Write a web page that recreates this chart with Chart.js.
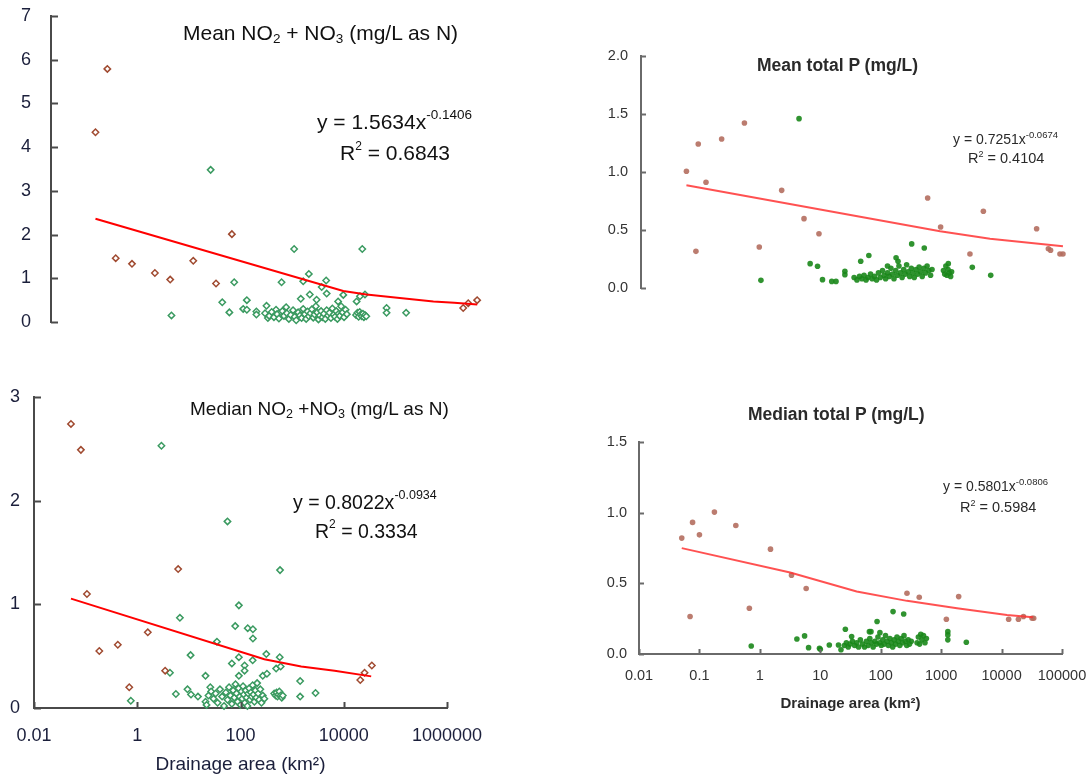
<!DOCTYPE html>
<html>
<head>
<meta charset="utf-8">
<script src="https://cdn.jsdelivr.net/npm/chart.js@4.4.1/dist/chart.umd.min.js"></script>
<style>
  body { margin: 0; width: 1089px; height: 779px; overflow: hidden; background: #fff; position: relative;
         font-family: "Liberation Sans", Arial, Helvetica, sans-serif; }
  canvas { position: absolute; }
  .txt { position: absolute; white-space: nowrap; line-height: 1; color: #111; }
  .txt span { position: relative; }
  .soft { filter: blur(0.5px); }
  .right { color: #2a2a2a; }
</style>
</head>
<body>
<canvas id="meanN" width="540" height="380" style="left:0;top:-20px"></canvas>
<canvas id="medN" width="550" height="409" style="left:-10px;top:370px"></canvas>
<canvas id="meanP" class="soft" width="520" height="290" style="left:590px;top:30px"></canvas>
<canvas id="medP" class="soft" width="540" height="330" style="left:590px;top:400px"></canvas>

<div class="txt" style="left:183px;top:22px;font-size:21px">Mean NO<span style="font-size:13.5px;top:3px">2</span> + NO<span style="font-size:13.5px;top:3px">3</span> (mg/L as N)</div>
<div class="txt" style="left:317px;top:111px;font-size:21px">y = 1.5634x<span style="font-size:13.5px;top:-10px">-0.1406</span></div>
<div class="txt" style="left:340px;top:142px;font-size:21px">R<span style="font-size:12px;top:-10px">2</span> = 0.6843</div>

<div class="txt" style="left:190px;top:399px;font-size:19px">Median NO<span style="font-size:12.5px;top:3px">2</span> +NO<span style="font-size:12.5px;top:3px">3</span> (mg/L as N)</div>
<div class="txt" style="left:293px;top:493px;font-size:19.5px">y = 0.8022x<span style="font-size:12.5px;top:-10px">-0.0934</span></div>
<div class="txt" style="left:315px;top:522px;font-size:19.5px">R<span style="font-size:12px;top:-10px">2</span> = 0.3334</div>

<div class="txt right soft" style="left:757px;top:57px;font-size:17.5px;font-weight:bold">Mean total P (mg/L)</div>
<div class="txt right soft" style="left:953px;top:132px;font-size:14px">y = 0.7251x<span style="font-size:9.5px;top:-6px">-0.0674</span></div>
<div class="txt right soft" style="left:968px;top:151px;font-size:14.5px">R<span style="font-size:9px;top:-6px">2</span> = 0.4104</div>

<div class="txt right soft" style="left:748px;top:406px;font-size:17.5px;font-weight:bold">Median total P (mg/L)</div>
<div class="txt right soft" style="left:943px;top:479px;font-size:14px">y = 0.5801x<span style="font-size:9.5px;top:-6px">-0.0806</span></div>
<div class="txt right soft" style="left:960px;top:500px;font-size:14.5px">R<span style="font-size:9px;top:-6px">2</span> = 0.5984</div>

<script>
// [drainage area km2, concentration mg/L]
const meanNBrown = [[0.048,4.34],[0.073,5.79],[0.098,1.46],[0.174,1.33],[0.39,1.12],[0.67,0.97],[1.51,1.40],[3.37,0.88],[5.9,2.01],[20600,0.32],[24600,0.43],[33700,0.50]];
const meanNGreen = [[0.70,0.15],[2.79,3.48],[4.2,0.45],[5.4,0.22],[6.4,0.91],[8.8,0.30],[10,0.28],[10,0.50],[14,0.24],[14,0.17],[20,0.37],[21,0.09],[28,0.28],[34,0.91],[40,0.34],[53,1.67],[67,0.53],[73,0.93],[89,1.10],[92,0.63],[117,0.51],[140,0.80],[164,0.95],[167,0.65],[250,0.47],[300,0.62],[480,0.47],[540,0.59],[586,1.67],[645,0.63],[1380,0.32],[1380,0.21],[2750,0.21],
  [19,0.20],[22,0.14],[24,0.23],[26,0.11],[29,0.18],[31,0.08],[35,0.25],[37,0.14],[41,0.20],[44,0.07],[47,0.16],[51,0.27],[54,0.12],[57,0.04],[61,0.22],[65,0.15],[69,0.09],[73,0.30],[77,0.18],[81,0.07],[85,0.24],[89,0.13],[94,0.20],[99,0.29],[104,0.10],[109,0.17],[114,0.36],[119,0.22],[125,0.06],[131,0.15],[137,0.25],[144,0.11],[151,0.19],[159,0.07],[167,0.27],[175,0.15],[184,0.21],[194,0.09],[204,0.31],[214,0.17],[224,0.12],[234,0.25],[244,0.07],[254,0.19],[265,0.14],[278,0.36],[292,0.22],[308,0.11],[325,0.28],[340,0.18],
  [470,0.16],[495,0.21],[515,0.12],[535,0.23],[555,0.17],[575,0.13],[600,0.19],[620,0.11],[645,0.16],[675,0.13]];
const meanNTrend = [[0.048,2.36],[300,0.71],[680,0.63],[2200,0.55],[7200,0.47],[15000,0.44],[33800,0.40]];

const medNBrown = [[0.052,2.74],[0.081,2.49],[0.106,1.10],[0.184,0.55],[0.42,0.61],[0.70,0.20],[1.60,0.73],[3.47,0.36],[6.2,1.34],[20900,0.27],[25300,0.34],[35000,0.41]];
const medNGreen = [[0.75,0.07],[2.94,2.53],[4.3,0.34],[5.6,0.135],[6.7,0.87],[9.4,0.18],[10.8,0.51],[11,0.13],[15,0.11],[21,0.31],[21,0.06],[22,0.03],[26,0.20],[35,0.64],[56,1.80],[68,0.43],[79,0.79],[93,0.99],[93,0.49],[93,0.31],[120,0.41],[120,0.36],[138,0.77],[172,0.46],[174,0.76],[174,0.67],[270,0.31],[316,0.52],[325,0.33],[490,0.38],[575,0.49],[583,1.33],[600,0.40],[1430,0.26],[1430,0.11],[2840,0.145],
  [24,0.12],[27,0.16],[30,0.09],[33,0.14],[36,0.05],[40,0.18],[44,0.11],[48,0.02],[52,0.15],[56,0.08],[60,0.20],[64,0.12],[68,0.04],[72,0.17],[76,0.10],[80,0.23],[84,0.14],[88,0.06],[92,0.19],[96,0.11],[100,0.03],[104,0.16],[108,0.09],[112,0.21],[116,0.13],[121,0.05],[126,0.17],[131,0.10],[136,0.02],[141,0.14],[147,0.19],[153,0.08],[159,0.15],[165,0.11],[172,0.22],[179,0.13],[186,0.06],[194,0.17],[202,0.10],[210,0.24],[220,0.14],[230,0.08],[242,0.18],[255,0.05],[270,0.12],[290,0.09],
  [450,0.14],[480,0.12],[500,0.15],[520,0.11],[545,0.13],[565,0.16],[600,0.12],[630,0.10],[660,0.12]];
const medNTrend = [[0.052,1.055],[290,0.47],[1500,0.40],[6650,0.36],[34000,0.305]];

const meanPBrown = [[0.050,1.006],[0.070,0.316],[0.076,1.241],[0.10,0.911],[0.174,1.284],[0.39,1.422],[0.66,0.353],[1.46,0.842],[3.22,0.598],[5.47,0.468],[257,0.776],[407,0.526],[1150,0.293],[1850,0.661],[12200,0.511],[18500,0.339],[20000,0.325],[27900,0.293],[31000,0.293]];
const meanPGreen = [[0.70,0.066],[2.7,1.46],[4.0,0.21],[5.2,0.187],[6.2,0.072],[8.6,0.057],[10,0.057],[13.7,0.144],[13.7,0.115],[24,0.23],[32,0.28],[62,0.19],[84,0.26],[90,0.23],[146,0.38],[228,0.345],[534,0.21],[1250,0.178],[2400,0.109],
  [19,0.09],[21,0.07],[23,0.10],[25,0.08],[27,0.11],[29,0.07],[31,0.09],[34,0.12],[36,0.08],[39,0.10],[42,0.07],[45,0.13],[48,0.09],[52,0.15],[55,0.11],[58,0.08],[62,0.13],[66,0.10],[70,0.17],[74,0.12],[78,0.08],[83,0.15],[88,0.11],[93,0.19],[98,0.13],[104,0.09],[110,0.16],[116,0.12],[122,0.20],[129,0.14],[136,0.10],[144,0.17],[152,0.13],[160,0.09],[170,0.16],[180,0.12],[190,0.18],[200,0.14],[212,0.10],[225,0.17],[238,0.13],[252,0.19],[268,0.15],[285,0.11],[300,0.16],
  [450,0.15],[470,0.12],[490,0.19],[510,0.11],[530,0.16],[550,0.13],[580,0.10],[600,0.14]];
const meanPTrend = [[0.050,0.885],[400,0.49],[2340,0.425],[31000,0.36]];

const medPBrown = [[0.051,0.820],[0.070,0.265],[0.077,0.931],[0.10,0.843],[0.177,1.004],[0.40,0.909],[0.67,0.324],[1.50,0.742],[3.34,0.558],[5.84,0.463],[272,0.430],[434,0.402],[1220,0.246],[1950,0.406],[13100,0.246],[19000,0.246],[23000,0.265],[32000,0.253],[34000,0.253]];
const medPGreen = [[0.72,0.057],[4.1,0.106],[5.5,0.128],[6.4,0.045],[9.7,0.04],[10,0.033],[14.1,0.064],[20,0.064],[22,0.03],[26,0.175],[33,0.123],[65,0.158],[69,0.158],[87,0.23],[97,0.151],[160,0.30],[240,0.283],[1290,0.158],[1290,0.135],[1290,0.10],[2610,0.083],
  [25,0.06],[27,0.08],[29,0.05],[31,0.07],[34,0.09],[37,0.06],[40,0.08],[43,0.05],[46,0.10],[50,0.07],[54,0.05],[58,0.09],[62,0.06],[66,0.11],[70,0.08],[75,0.05],[80,0.09],[85,0.07],[90,0.12],[96,0.08],[102,0.06],[108,0.10],[114,0.07],[120,0.13],[127,0.09],[134,0.06],[142,0.11],[150,0.08],[158,0.05],[167,0.10],[176,0.07],[186,0.12],[196,0.09],[207,0.06],[218,0.11],[230,0.08],[243,0.13],[256,0.09],[270,0.06],[285,0.10],[300,0.07],[320,0.09],
  [400,0.08],[420,0.12],[440,0.07],[460,0.14],[480,0.10],[510,0.13],[540,0.08],[570,0.11]];
const medPTrend = [[0.051,0.749],[3.17,0.576],[40,0.442],[272,0.376],[1830,0.324],[12300,0.276],[33000,0.26]];

// axis ticks
const nYTicks = [0, 1, 2, 3, 4, 5, 6, 7];
const nYLabels = ['0', '1', '2', '3', '4', '5', '6', '7'];
const medNYTicks = [0, 1, 2, 3];
const medNYLabels = ['0', '1', '2', '3'];
const meanPYTicks = [0, 0.5, 1, 1.5, 2];
const meanPYLabels = ['0.0', '0.5', '1.0', '1.5', '2.0'];
const medPYTicks = [0, 0.5, 1, 1.5];
const medPYLabels = ['0.0', '0.5', '1.0', '1.5'];
const leftXTicks = [0.01, 1, 100, 10000, 1000000];
const leftXLabels = ['0.01', '1', '100', '10000', '1000000'];
const rightXTicks = [0.01, 0.1, 1, 10, 100, 1000, 10000, 100000];
const rightXLabels = ['0.01', '0.1', '1', '10', '100', '1000', '10000', '100000'];

const FONT = '"Liberation Sans", Arial, Helvetica, sans-serif';
Chart.defaults.font.family = FONT;

const pts = arr => arr.map(([x, y]) => ({x, y}));

// tick marks drawn inside the plot, as in the original figure
const innerTicks = {
  id: 'innerTicks',
  afterDraw(chart, args, opts) {
    const ctx = chart.ctx;
    const {left, bottom} = chart.chartArea;
    ctx.save();
    ctx.strokeStyle = opts.color;
    ctx.lineWidth = opts.width;
    const ys = chart.scales.y;
    ys.ticks.forEach(t => {
      const py = Math.round(ys.getPixelForValue(t.value)) + 0.5;
      ctx.beginPath(); ctx.moveTo(left, py); ctx.lineTo(left + opts.len, py); ctx.stroke();
    });
    const xs = chart.scales.x;
    if (opts.xTicks) {
      xs.ticks.forEach(t => {
        const px = Math.round(xs.getPixelForValue(t.value)) + 0.5;
        ctx.beginPath(); ctx.moveTo(px, bottom); ctx.lineTo(px, bottom - opts.xLen); ctx.stroke();
      });
    }
    ctx.restore();
  }
};

function panel(id, o) {
  const datasets = [
    {data: pts(o.trend), showLine: true, borderColor: o.lineColor, borderWidth: 2, pointRadius: 0, order: 0, clip: false},
    {data: pts(o.brown), pointStyle: o.style, pointRadius: o.r, borderWidth: o.bw,
     borderColor: o.brownC, backgroundColor: o.fill || o.brownC, order: 1, clip: false},
    {data: pts(o.green), pointStyle: o.style, pointRadius: o.r, borderWidth: o.bw,
     borderColor: o.greenC, backgroundColor: o.fill || o.greenC, order: 2, clip: false}
  ];
  return new Chart(document.getElementById(id), {
    type: 'scatter',
    data: {datasets},
    plugins: [innerTicks],
    options: {
      responsive: false,
      animation: false,
      events: [],
      layout: {padding: o.pad},
      plugins: {
        legend: {display: false},
        tooltip: {enabled: false},
        innerTicks: {color: o.axisColor, width: o.tickW, len: o.tickLen, xTicks: !!o.xTicks, xLen: o.xTickLen}
      },
      scales: {
        x: {
          type: 'logarithmic', min: 0.01, max: o.xMax, display: !!o.xTicks,
          afterBuildTicks: s => { if (o.xTicks) s.ticks = o.xTicks.map(v => ({value: v})); },
          afterFit: s => { s.height = o.xHeight || 0; },
          grid: {display: true, drawOnChartArea: false, drawTicks: false},
          border: {display: true, color: o.axisColor, width: 2},
          ticks: {autoSkip: false, maxRotation: 0, padding: o.xPad, color: o.tickColor,
                  font: {size: o.tickSize}, callback: (v, i) => o.xLabels ? o.xLabels[i] : ''},
          title: {display: !!o.xTicks, text: 'Drainage area (km²)', color: o.titleColor,
                  font: {size: o.xTitleSize, weight: o.xTitleWeight}, padding: {top: 0, bottom: o.xTitlePad}}
        },
        y: {
          min: 0, max: o.yTicks[o.yTicks.length - 1],
          afterBuildTicks: s => { s.ticks = o.yTicks.map(v => ({value: v})); },
          afterFit: s => { s.width = o.yWidth; },
          grid: {display: true, drawOnChartArea: false, drawTicks: false},
          border: {display: true, color: o.axisColor, width: 2},
          ticks: {padding: o.yPad, color: o.tickColor, font: {size: o.tickSize},
                  callback: (v, i) => o.yLabels[i]}
        }
      }
    }
  });
}

const leftStyle = {style: 'rectRot', r: 3.2, bw: 1.5, fill: '#ffffff', brownC: '#a04a30', greenC: '#3a9a60',
                   lineColor: '#ff0000', axisColor: '#4a4a4a', tickColor: '#1b1f3b', titleColor: '#1b1f3b',
                   tickSize: 18, tickW: 2, tickLen: 7, xTickLen: 6};
const rightStyle = {style: 'circle', r: 2.8, bw: 0, brownC: 'rgba(180,110,95,0.9)', greenC: 'rgba(25,135,25,0.9)',
                    lineColor: 'rgba(255,50,50,0.85)', axisColor: '#6a6a6a', tickColor: '#333333', titleColor: '#2a2a2a',
                    tickSize: 14.5, tickW: 2, tickLen: 5, xTickLen: 5};

// canvases are oversized so that label padding never pushes the plot areas
panel('meanN', Object.assign({}, leftStyle, {
  brown: meanNBrown, green: meanNGreen, trend: meanNTrend,
  xMax: 100000, yTicks: nYTicks, yLabels: nYLabels,
  yWidth: 51, yPad: 20, pad: {left: 0, top: 36, right: 32, bottom: 38}
}));

panel('medN', Object.assign({}, leftStyle, {
  brown: medNBrown, green: medNGreen, trend: medNTrend,
  xMax: 1000000, xTicks: leftXTicks, xLabels: leftXLabels, xHeight: 71, xPad: 17,
  xTitleSize: 19, xTitleWeight: 'normal', xTitlePad: 3,
  yTicks: medNYTicks, yLabels: medNYLabels,
  yWidth: 34, yPad: 14, pad: {left: 10, top: 27, right: 93, bottom: 0}
}));

panel('meanP', Object.assign({}, rightStyle, {
  brown: meanPBrown, green: meanPGreen, trend: meanPTrend,
  xMax: 100000, yTicks: meanPYTicks, yLabels: meanPYLabels,
  yWidth: 51, yPad: 13, pad: {left: 0, top: 26, right: 14, bottom: 32}
}));

panel('medP', Object.assign({}, rightStyle, {
  brown: medPBrown, green: medPGreen, trend: medPTrend,
  xMax: 100000, xTicks: rightXTicks, xLabels: rightXLabels, xHeight: 76, xPad: 13,
  xTitleSize: 15, xTitleWeight: 'bold', xTitlePad: 17,
  yTicks: medPYTicks, yLabels: medPYLabels,
  yWidth: 49, yPad: 12, pad: {left: 0, top: 42, right: 68, bottom: 0}
}));
</script>
</body>
</html>
